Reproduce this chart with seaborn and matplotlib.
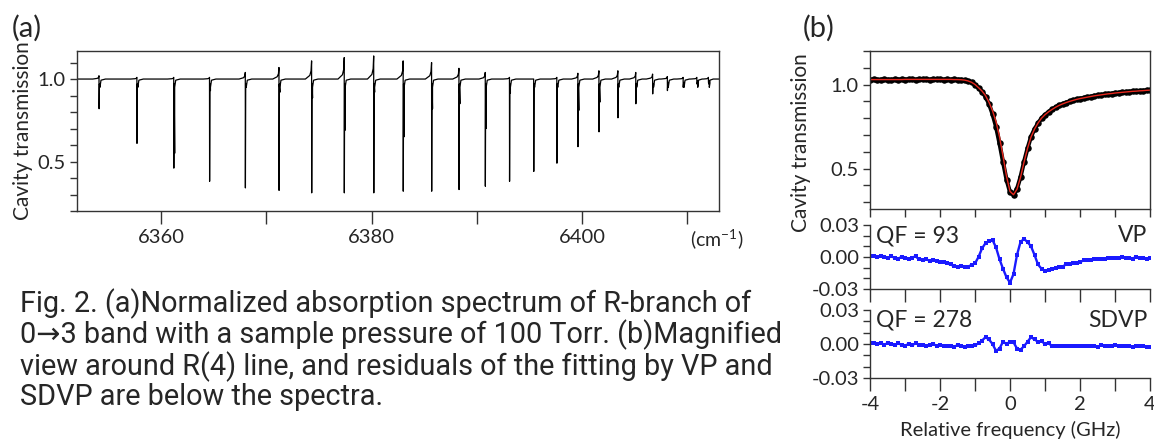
import numpy as np
import pandas as pd
import matplotlib
matplotlib.use('Agg')
import matplotlib.pyplot as plt
from matplotlib.ticker import MultipleLocator
import seaborn as sns

# (a) R-branch lines: centre (cm-1), minimum, top of the dispersive spike, second level
line_pos = [6354.1, 6357.7, 6361.2, 6364.6, 6368.0, 6371.2, 6374.3, 6377.4, 6380.2,
            6383.0, 6385.7, 6388.3, 6390.8, 6393.1, 6395.4, 6397.6, 6399.6, 6401.6,
            6403.4, 6405.1, 6406.7, 6408.1, 6409.6, 6410.9, 6412.0]
line_min = [0.82, 0.61, 0.46, 0.38, 0.34, 0.325, 0.31, 0.31, 0.31,
            0.32, 0.32, 0.33, 0.35, 0.38, 0.44, 0.49, 0.59, 0.68,
            0.765, 0.85, 0.91, 0.93, 0.95, 0.97, 0.98]
line_peak = [1.02, 1.01, 1.01, 1.01, 1.04, 1.07, 1.11, 1.13, 1.14,
             1.11, 1.10, 1.065, 1.04, 1.01, 1.0, 1.01, 1.035, 1.05,
             1.05, 1.04, 1.03, 1.015, 1.01, 1.01, 1.01]
line_sub = [0.96, 0.97, 0.55, 0.93, 0.97, 0.92, 0.885, 0.69, 0.92,
            0.65, 0.82, 0.85, 0.70, 0.915, 0.95, 0.95, 0.81, 0.86,
            0.95, 0.97, 0.97, 0.98, 0.98, 0.99, 0.99]

# (b) R(4) line, measured transmission and fit, -4..4 GHz in 0.1 GHz steps
freq = np.round(np.arange(-4.0, 4.05, 0.1), 1)
trans_meas = [1.030, 1.031, 1.029, 1.030, 1.031, 1.030, 1.029, 1.031, 1.030, 1.031,
              1.030, 1.032, 1.031, 1.030, 1.031, 1.032, 1.031, 1.030, 1.031, 1.032,
              1.031, 1.030, 1.031, 1.030, 1.031, 1.030, 1.029, 1.027, 1.022, 1.014,
              1.000, 0.980, 0.958, 0.928, 0.885, 0.825, 0.750, 0.650, 0.540, 0.435,
              0.360, 0.345, 0.380, 0.450, 0.540, 0.620, 0.690, 0.735, 0.770, 0.800,
              0.820, 0.838, 0.852, 0.865, 0.876, 0.885, 0.893, 0.900, 0.906, 0.912,
              0.917, 0.921, 0.925, 0.929, 0.933, 0.936, 0.939, 0.942, 0.945, 0.947,
              0.950, 0.952, 0.954, 0.956, 0.958, 0.960, 0.961, 0.963, 0.964, 0.966,
              0.967]
trans_fit = [1.030, 1.030, 1.030, 1.030, 1.030, 1.030, 1.030, 1.030, 1.030, 1.030,
             1.031, 1.031, 1.031, 1.031, 1.031, 1.031, 1.031, 1.031, 1.031, 1.031,
             1.031, 1.031, 1.031, 1.031, 1.030, 1.030, 1.029, 1.027, 1.022, 1.014,
             1.001, 0.982, 0.962, 0.935, 0.895, 0.845, 0.780, 0.690, 0.575, 0.455,
             0.365, 0.345, 0.378, 0.448, 0.538, 0.620, 0.688, 0.735, 0.771, 0.800,
             0.821, 0.838, 0.852, 0.865, 0.876, 0.885, 0.893, 0.900, 0.906, 0.912,
             0.917, 0.921, 0.925, 0.929, 0.933, 0.936, 0.939, 0.942, 0.945, 0.947,
             0.950, 0.952, 0.954, 0.956, 0.958, 0.960, 0.961, 0.963, 0.964, 0.966,
             0.967]
resid_vp = [0.0010, 0.0005, 0.0000, 0.0010, 0.0000, -0.0010, 0.0005, -0.0005, -0.0015, 0.0000,
            -0.0010, -0.0020, -0.0005, 0.0005, -0.0020, -0.0025, -0.0020, -0.0035, -0.0030, -0.0040,
            -0.0045, -0.0050, -0.0060, -0.0070, -0.0085, -0.0095, -0.0080, -0.0095, -0.0090, -0.0075,
            -0.0060, 0.0000, 0.0080, 0.0130, 0.0150, 0.0160, 0.0090, -0.0020, -0.0110, -0.0190,
            -0.0240, -0.0160, 0.0020, 0.0140, 0.0170, 0.0140, 0.0100, 0.0020, -0.0070, -0.0110,
            -0.0130, -0.0120, -0.0110, -0.0105, -0.0095, -0.0090, -0.0070, -0.0065, -0.0060, -0.0055,
            -0.0050, -0.0030, -0.0030, -0.0025, -0.0020, -0.0020, -0.0015, -0.0020, -0.0010, -0.0005,
            -0.0010, -0.0005, 0.0000, -0.0010, -0.0005, -0.0015, 0.0000, -0.0010, -0.0005, -0.0015,
            -0.0010]
resid_sdvp = [0.0010, 0.0005, 0.0000, 0.0010, -0.0005, 0.0005, 0.0000, -0.0010, 0.0005, -0.0005,
              -0.0015, 0.0000, -0.0010, 0.0005, -0.0005, -0.0010, -0.0020, -0.0005, 0.0000, -0.0015,
              -0.0010, -0.0020, -0.0015, -0.0020, -0.0025, -0.0010, -0.0015, -0.0025, -0.0020, -0.0015,
              -0.0010, 0.0005, 0.0030, 0.0060, 0.0040, 0.0000, -0.0060, -0.0040, 0.0020, 0.0000,
              0.0020, 0.0015, -0.0040, -0.0050, -0.0020, 0.0020, 0.0060, 0.0040, 0.0020, 0.0025,
              0.0000, 0.0005, -0.0015, -0.0020, -0.0020, -0.0015, -0.0020, -0.0020, -0.0015, -0.0020,
              -0.0015, -0.0020, -0.0015, -0.0020, -0.0015, -0.0025, -0.0010, -0.0020, -0.0015, -0.0020,
              -0.0010, -0.0015, -0.0020, -0.0015, -0.0020, -0.0025, -0.0020, -0.0015, -0.0020, -0.0025,
              -0.0030]
qf_vp = 93
qf_sdvp = 278

caption = ("Fig. 2. (a)Normalized absorption spectrum of R-branch of\n"
           "0\u21923 band with a sample pressure of 100 Torr. (b)Magnified\n"
           "view around R(4) line, and residuals of the fitting by VP and\n"
           "SDVP are below the spectra.")

sns.set_theme(style='ticks')
plt.rcParams['font.family'] = ['Lato', 'DejaVu Sans']
plt.rcParams['mathtext.fontset'] = 'custom'
plt.rcParams['mathtext.rm'] = 'Lato'
plt.rcParams['axes.unicode_minus'] = False
plt.rcParams['axes.edgecolor'] = '#333333'
plt.rcParams['axes.linewidth'] = 1.0
plt.rcParams['xtick.color'] = '#333333'
plt.rcParams['ytick.color'] = '#333333'
TXT = '#262626'
TICK = 14.5

fig = plt.figure(figsize=(11.54, 4.44), dpi=100)

# ---------- (a) ----------
# trace built vertex by vertex from the read line parameters
gaps = np.diff(line_pos)
xs, ys = [6352.0], [1.0]
for i, (c, lo, pk, sub) in enumerate(zip(line_pos, line_min, line_peak, line_sub)):
    pre = min(0.6, 0.45 * (gaps[i - 1] if i > 0 else 1.5))
    post = min(0.6, 0.45 * (gaps[i] if i < len(gaps) else 1.0))
    xs += [c - pre, c - 0.3 * pre, c - 0.06, c - 0.01, c, c + 0.03, c + 0.08, c + 0.08, c + 0.14,
           c + 0.3 * post, c + post]
    ys += [1.0, 1 + 0.2 * (pk - 1), 1 + 0.45 * (pk - 1), pk, lo, 0.97, sub, 0.95, 0.975,
           0.993, 1.0]
xs.append(6413.0)
ys.append(1.0)
spec = pd.DataFrame({'nu': xs, 'T': ys})

ax_a = fig.add_axes([77 / 1154, 1 - 211 / 444, 642 / 1154, 160 / 444])
sns.lineplot(data=spec, x='nu', y='T', ax=ax_a, color='black', lw=0.9, sort=False,
             estimator=None)
ax_a.set_xlim(6352, 6413)
ax_a.set_ylim(0.2, 1.17)
ax_a.xaxis.set_major_locator(MultipleLocator(20))
ax_a.xaxis.set_minor_locator(MultipleLocator(10))
ax_a.yaxis.set_major_locator(MultipleLocator(0.5))
ax_a.yaxis.set_minor_locator(MultipleLocator(0.1))
ax_a.yaxis.set_major_formatter(plt.FormatStrFormatter('%.1f'))
ax_a.tick_params(axis='x', which='both', direction='out', length=9, width=1, labelsize=TICK,
                 labelcolor=TXT, pad=4)
ax_a.tick_params(axis='y', which='both', direction='out', length=5, width=1, labelsize=TICK,
                 labelcolor=TXT, pad=3)
ax_a.set_xlabel('')
ax_a.set_ylabel('Cavity transmission', fontsize=15, color=TXT, labelpad=3)
fig.text(690 / 1154, 1 - 240 / 444, r'(cm$^{-1}$)', fontsize=14, color=TXT, va='center')
fig.text(12 / 1154, 1 - 28 / 444, '(a)', fontsize=21, color=TXT, va='center')

# ---------- (b) top ----------
prof = pd.DataFrame({'f': freq, 'meas': trans_meas, 'fit': trans_fit})
ax_b = fig.add_axes([870 / 1154, 1 - 209 / 444, 280 / 1154, 158 / 444])
sns.lineplot(data=prof, x='f', y='meas', ax=ax_b, color='black', lw=3.0)
sns.scatterplot(data=prof, x='f', y='meas', ax=ax_b, color='black', s=22, linewidth=0,
                marker='o')
sns.lineplot(data=prof, x='f', y='fit', ax=ax_b, color='#e8281e', lw=1.0)
ax_b.set_xlim(-4, 4)
ax_b.set_ylim(0.26, 1.2)
ax_b.xaxis.set_major_locator(MultipleLocator(1))
ax_b.yaxis.set_major_locator(MultipleLocator(0.5))
ax_b.yaxis.set_minor_locator(MultipleLocator(0.1))
ax_b.yaxis.set_major_formatter(plt.FormatStrFormatter('%.1f'))
ax_b.tick_params(axis='x', which='both', direction='out', length=6, width=1, labelbottom=False)
ax_b.tick_params(axis='y', which='both', direction='out', length=5, width=1, labelsize=TICK,
                 labelcolor=TXT, pad=3)
ax_b.set_xlabel('')
ax_b.set_ylabel('Cavity transmission', fontsize=15, color=TXT)
ax_b.yaxis.set_label_coords(-0.21, 0.42)
fig.text(803 / 1154, 1 - 28 / 444, '(b)', fontsize=21, color=TXT, va='center')

# ---------- (b) residuals ----------
res = pd.DataFrame({'f': freq, 'vp': resid_vp, 'sdvp': resid_sdvp})
panels = [('vp', 'VP', qf_vp, 225, 289), ('sdvp', 'SDVP', qf_sdvp, 310, 378)]
for col, name, qf, top, bot in panels:
    ax = fig.add_axes([870 / 1154, 1 - bot / 444, 280 / 1154, (bot - top) / 444])
    sns.lineplot(data=res, x='f', y=col, ax=ax, color='#1a1aff', lw=1.7, marker='s',
                 markersize=2.4, markeredgewidth=0)
    ax.set_xlim(-4, 4)
    ax.set_ylim(-0.03, 0.03)
    ax.xaxis.set_major_locator(MultipleLocator(2))
    ax.xaxis.set_minor_locator(MultipleLocator(1))
    ax.yaxis.set_major_locator(MultipleLocator(0.03))
    ax.yaxis.set_minor_locator(MultipleLocator(0.01))
    ax.yaxis.set_major_formatter(plt.FormatStrFormatter('%.2f'))
    for s in ['top', 'right']:
        ax.spines[s].set_visible(False)
    ax.tick_params(axis='x', which='both', direction='out', length=9, width=1,
                   labelbottom=(col == 'sdvp'), labelsize=TICK, labelcolor=TXT, pad=4)
    ax.tick_params(axis='y', which='both', direction='out', length=5, width=1, labelsize=TICK,
                   labelcolor=TXT, pad=3)
    ax.set_ylabel('')
    ax.set_xlabel('')
    ax.text(0.02, 1.0, f'QF = {qf}', transform=ax.transAxes, fontsize=16.5, color=TXT,
            va='top', ha='left')
    ax.text(0.99, 1.0, name, transform=ax.transAxes, fontsize=16.5, color=TXT,
            va='top', ha='right')
    if col == 'sdvp':
        ax.set_xlabel('Relative frequency (GHz)', fontsize=14.5, color=TXT, labelpad=6)

fig.text(20 / 1154, 1 - 288 / 444, caption, fontsize=20.8, color=TXT, va='top', ha='left',
         family=['Roboto', 'DejaVu Sans'], linespacing=1.04)

fig.savefig('out.png', dpi=100)
